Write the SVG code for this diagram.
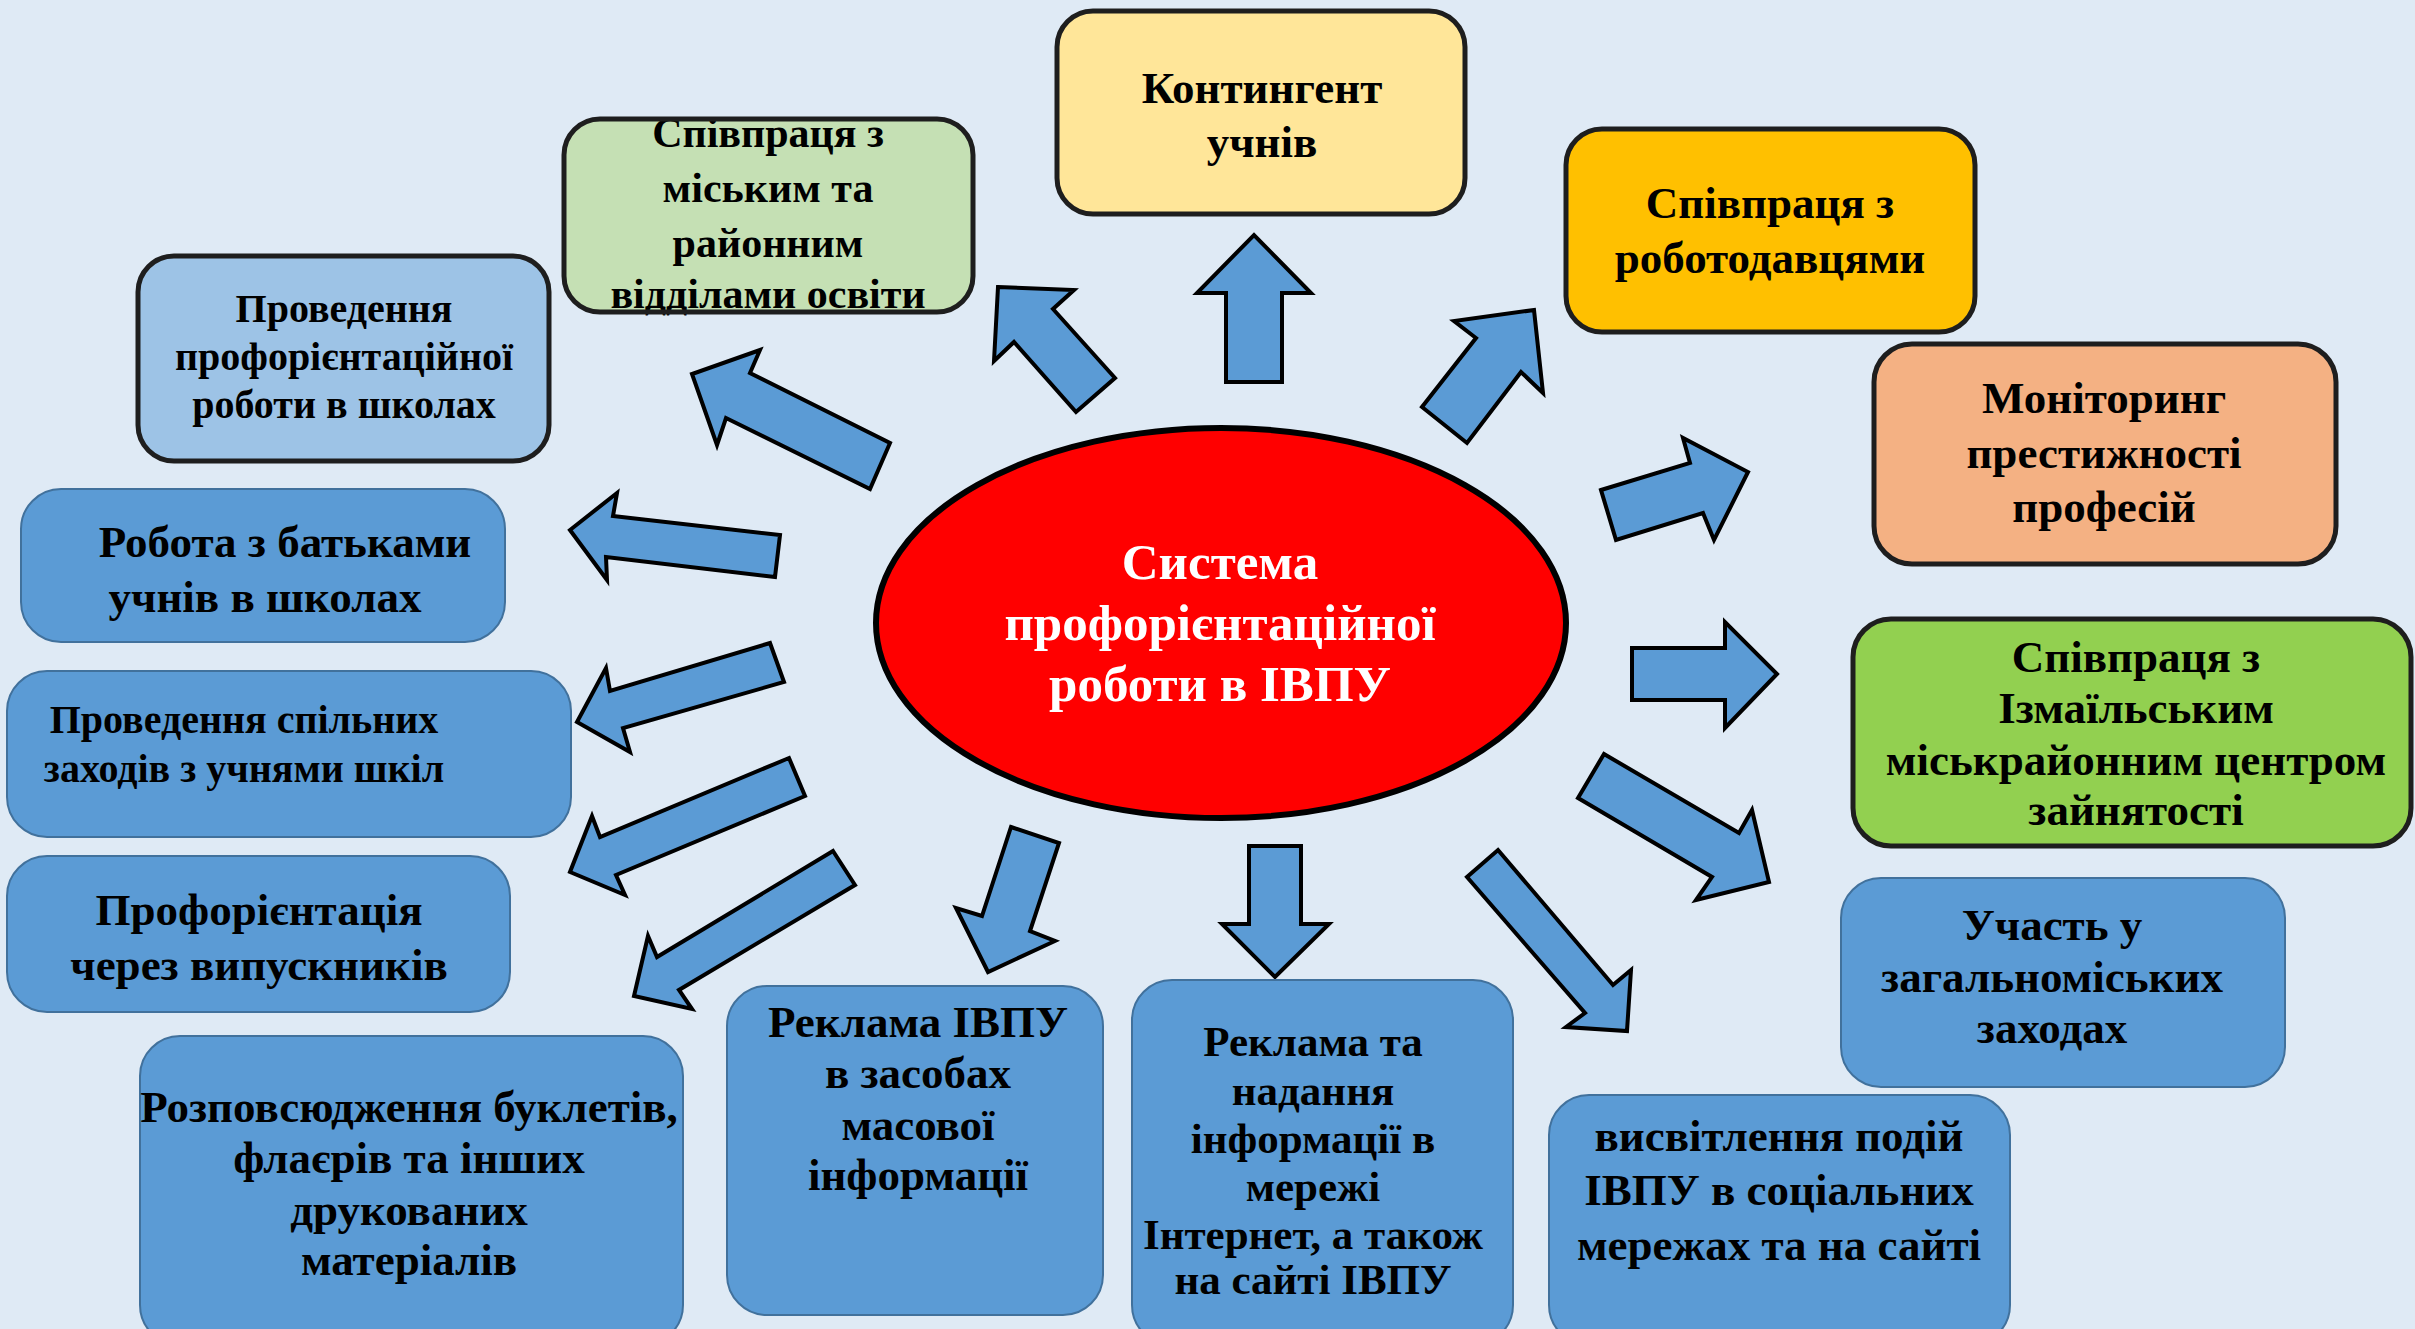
<svg xmlns="http://www.w3.org/2000/svg" width="2415" height="1329" viewBox="0 0 2415 1329">
<style>
.t{font-family:"Liberation Serif","DejaVu Serif",serif;font-weight:bold;fill:#000;text-anchor:middle}
.w{fill:#fff}
.bl{fill:#5B9BD5;stroke:#41719C;stroke-width:2}
.bk{stroke:#1e1e1e;stroke-width:5}
.ar{fill:#5B9BD5;stroke:#000;stroke-width:4;stroke-linejoin:miter}
</style>
<rect width="2415" height="1329" fill="#DFEAF5"/>
<g id="connectors">
<polygon class="ar" points="1226,382 1282,382 1282,293 1311,293 1254,235 1197,293 1226,293"/>
<polygon class="ar" points="1534,310 1454,321 1476,338 1422,407 1467,443 1521,372 1543,393"/>
<polygon class="ar" points="1601,490 1690,463 1683,438 1748,472 1714,540 1703,513 1616,540"/>
<polygon class="ar" points="1632,648 1725,648 1725,622 1777,674 1725,728 1725,700 1632,700"/>
<polygon class="ar" points="1604,754 1739,833 1752,810 1769,882 1696,900 1712,877 1578,798"/>
<polygon class="ar" points="1498,850 1613,985 1631,970 1627,1031 1566,1027 1585,1013 1467,877"/>
<polygon class="ar" points="1249,846 1301,846 1301,924 1329,924 1275,977 1222,924 1249,924"/>
<polygon class="ar" points="1011,827 1059,843 1030,931 1055,941 988,972 956,908 982,916"/>
<polygon class="ar" points="833,851 855,885 679,990 692,1009 634,996 648,936 657,957"/>
<polygon class="ar" points="789,758 805,796 616,875 625,895 570,872 592,816 600,837"/>
<polygon class="ar" points="770,643 784,682 623,728 630,752 577,722 606,668 610,691"/>
<polygon class="ar" points="780,535 775,577 606,557 607,580 570,530 617,493 613,516"/>
<polygon class="ar" points="890,443 870,489 726,418 717,445 692,374 760,350 750,373"/>
<polygon class="ar" points="998,287 1074,290 1053,309 1115,378 1076,412 1014,342 994,361"/>
</g>
<g id="center">
<ellipse cx="1221" cy="623" rx="345" ry="195" fill="#FF0000" stroke="#000" stroke-width="6"/>
<text class="t w" font-size="51" x="1220" y="579">Система</text>
<text class="t w" font-size="51" x="1220" y="640">профорієнтаційної</text>
<text class="t w" font-size="51" x="1220" y="701">роботи в ІВПУ</text>
</g>
<g id="n-kontyngent">
<rect class="bk" x="1057" y="11" width="408" height="203" rx="36" fill="#FFE699"/>
<text class="t" font-size="45" x="1262" y="103">Контингент</text>
<text class="t" font-size="45" x="1262" y="157">учнів</text>
</g>
<g id="n-robotodavtsi">
<rect class="bk" x="1566" y="129" width="409" height="203" rx="36" fill="#FFC000"/>
<text class="t" font-size="45" x="1770" y="218">Співпраця з</text>
<text class="t" font-size="45" x="1770" y="273">роботодавцями</text>
</g>
<g id="n-monitoring">
<rect class="bk" x="1874" y="344" width="462" height="220" rx="38" fill="#F4B183"/>
<text class="t" font-size="45" x="2104" y="413">Моніторинг</text>
<text class="t" font-size="45" x="2104" y="468">престижності</text>
<text class="t" font-size="45" x="2104" y="522">професій</text>
</g>
<g id="n-zainiatist">
<rect class="bk" x="1853" y="619" width="558" height="227" rx="38" fill="#92D050"/>
<text class="t" font-size="45" x="2136" y="672">Співпраця з</text>
<text class="t" font-size="45" x="2136" y="723">Ізмаїльським</text>
<text class="t" font-size="45" x="2136" y="775">міськрайонним центром</text>
<text class="t" font-size="45" x="2136" y="825">зайнятості</text>
</g>
<g id="n-uchast">
<rect class="bl" x="1841" y="878" width="444" height="209" rx="40"/>
<text class="t" font-size="45" x="2052" y="940">Участь у</text>
<text class="t" font-size="45" x="2052" y="992">загальноміських</text>
<text class="t" font-size="45" x="2052" y="1043">заходах</text>
</g>
<g id="n-vysvitlennia">
<rect class="bl" x="1549" y="1095" width="461" height="250" rx="40"/>
<text class="t" font-size="45" x="1779" y="1151">висвітлення подій</text>
<text class="t" font-size="45" x="1779" y="1205">ІВПУ в соціальних</text>
<text class="t" font-size="45" x="1779" y="1260">мережах та на сайті</text>
</g>
<g id="n-internet">
<rect class="bl" x="1132" y="980" width="381" height="365" rx="40"/>
<text class="t" font-size="43" x="1313" y="1056">Реклама та</text>
<text class="t" font-size="43" x="1313" y="1105">надання</text>
<text class="t" font-size="43" x="1313" y="1153">інформації в</text>
<text class="t" font-size="43" x="1313" y="1201">мережі</text>
<text class="t" font-size="43" x="1313" y="1249">Інтернет, а також</text>
<text class="t" font-size="43" x="1313" y="1294">на сайті ІВПУ</text>
</g>
<g id="n-zmi">
<rect class="bl" x="727" y="986" width="376" height="329" rx="40"/>
<text class="t" font-size="45" x="918" y="1037">Реклама ІВПУ</text>
<text class="t" font-size="45" x="918" y="1088">в засобах</text>
<text class="t" font-size="45" x="918" y="1140">масової</text>
<text class="t" font-size="45" x="918" y="1190">інформації</text>
</g>
<g id="n-buklety">
<rect class="bl" x="140" y="1036" width="543" height="309" rx="40"/>
<text class="t" font-size="45" x="409" y="1122">Розповсюдження буклетів,</text>
<text class="t" font-size="45" x="409" y="1173">флаєрів та інших</text>
<text class="t" font-size="45" x="409" y="1225">друкованих</text>
<text class="t" font-size="45" x="409" y="1275">матеріалів</text>
</g>
<g id="n-vypusknyky">
<rect class="bl" x="7" y="856" width="503" height="156" rx="40"/>
<text class="t" font-size="45" x="259" y="925">Профорієнтація</text>
<text class="t" font-size="45" x="259" y="980">через випускників</text>
</g>
<g id="n-spilni">
<rect class="bl" x="7" y="671" width="564" height="166" rx="40"/>
<text class="t" font-size="40" x="244" y="733">Проведення спільних</text>
<text class="t" font-size="40" x="244" y="782">заходів з учнями шкіл</text>
</g>
<g id="n-batky">
<rect class="bl" x="21" y="489" width="484" height="153" rx="40"/>
<text class="t" font-size="45" x="285" y="557">Робота з батьками</text>
<text class="t" font-size="45" x="265" y="612">учнів в школах</text>
</g>
<g id="n-shkoly">
<rect class="bk" x="138" y="256" width="411" height="205" rx="36" fill="#9DC3E6"/>
<text class="t" font-size="40" x="344" y="322">Проведення</text>
<text class="t" font-size="40" x="344" y="370">профорієнтаційної</text>
<text class="t" font-size="40" x="344" y="418">роботи в школах</text>
</g>
<g id="n-osvita">
<rect x="564" y="119" width="409" height="193" rx="36" fill="#C5E0B4"/>
<text class="t" font-size="42" x="768" y="147">Співпраця з</text>
<text class="t" font-size="42" x="768" y="202">міським та</text>
<text class="t" font-size="42" x="768" y="257">районним</text>
<text class="t" font-size="42" x="768" y="308">відділами освіти</text>
<rect class="bk" x="564" y="119" width="409" height="193" rx="36" fill="none"/>
</g>
</svg>
